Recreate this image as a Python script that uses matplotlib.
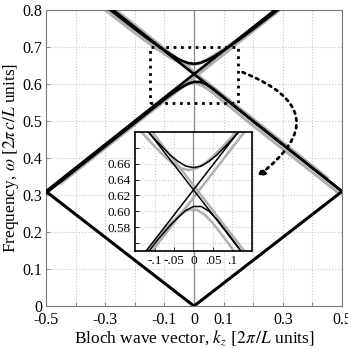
import matplotlib
matplotlib.use("Agg")
import matplotlib.pyplot as plt

plt.rcParams['font.family'] = ['Liberation Serif', 'DejaVu Serif']
plt.rcParams['mathtext.fontset'] = 'stix'

# folded light line (lower V), k in 2pi/L units, omega in 2pi c/L units
vee_k = [-0.5, 0.0, 0.5]
vee_w = [0.31, 0.0, 0.31]

# black structure: crossing lines
blk_a_k = [-0.5, 0.5]
blk_a_w = [0.31, 0.944]
blk_b_k = [-0.5, 0.5]
blk_b_w = [0.944, 0.31]

# black structure: gapped bands
band_k = [-0.5, -0.3, -0.2, -0.15, -0.12, -0.09, -0.06, -0.04, -0.02, 0.0,
          0.02, 0.04, 0.06, 0.09, 0.12, 0.15, 0.2, 0.3, 0.5]
blk_up = [0.936, 0.811, 0.749, 0.719, 0.702, 0.686, 0.671, 0.663, 0.657, 0.655,
          0.657, 0.663, 0.671, 0.686, 0.702, 0.719, 0.749, 0.811, 0.936]
blk_lo = [0.305, 0.432, 0.495, 0.527, 0.546, 0.565, 0.582, 0.592, 0.601, 0.606,
          0.606, 0.600, 0.590, 0.571, 0.551, 0.532, 0.499, 0.436, 0.310]

# grey structure
gry_a_k = [-0.45, 0.5]
gry_a_w = [0.332, 0.934]
gry_b_k = [-0.5, 0.45]
gry_b_w = [0.950, 0.347]

gband_k = [-0.512, -0.312, -0.212, -0.162, -0.132, -0.102, -0.072, -0.052, -0.032, -0.012,
           0.008, 0.028, 0.048, 0.078, 0.108, 0.138, 0.188, 0.288, 0.488]
gry_up = [0.933, 0.808, 0.746, 0.716, 0.699, 0.683, 0.668, 0.660, 0.654, 0.652,
          0.654, 0.660, 0.668, 0.683, 0.699, 0.716, 0.746, 0.808, 0.933]
gry_lo = [0.301, 0.428, 0.491, 0.523, 0.542, 0.561, 0.578, 0.588, 0.597, 0.602,
          0.602, 0.596, 0.586, 0.567, 0.547, 0.528, 0.495, 0.432, 0.306]

# zoom window
box_k = [-0.15, 0.15]
box_w = [0.55, 0.70]

main_xticks = [-0.5, -0.4, -0.3, -0.2, -0.1, 0.0, 0.1, 0.2, 0.3, 0.4, 0.5]
main_xlabels = ["-0.5", "", "-0.3", "", "-0.1", "0", "0.1", "", "0.3", "", "0.5"]
main_yticks = [0, 0.1, 0.2, 0.3, 0.4, 0.5, 0.6, 0.7, 0.8]
main_ylabels = ["0", "0.1", "0.2", "0.3", "0.4", "0.5", "0.6", "0.7", "0.8"]
ins_xticks = [-0.1, -0.05, 0.0, 0.05, 0.1]
ins_xlabels = ["-.1", "-.05", "0", ".05", ".1"]
ins_yticks = [0.56, 0.58, 0.60, 0.62, 0.64, 0.66, 0.68]
ins_ylabels = ["", "0.58", "0.60", "0.62", "0.64", "0.66", ""]

GREY = "#b0b0b0"


def draw_bands(ax, lw_g, lw_b):
  ax.axvline(0, color="#8a8a8a", lw=0.9, zorder=1)
  ax.plot(gry_a_k, gry_a_w, color=GREY, lw=lw_g, zorder=2)
  ax.plot(gry_b_k, gry_b_w, color=GREY, lw=lw_g, zorder=2)
  ax.plot(gband_k, gry_up, color=GREY, lw=lw_g, zorder=2)
  ax.plot(gband_k, gry_lo, color=GREY, lw=lw_g, zorder=2)
  ax.plot(blk_a_k, blk_a_w, color="black", lw=lw_b, zorder=3)
  ax.plot(blk_b_k, blk_b_w, color="black", lw=lw_b, zorder=3)
  ax.plot(band_k, blk_up, color="black", lw=lw_b, zorder=3)
  ax.plot(band_k, blk_lo, color="black", lw=lw_b, zorder=3)


def style_axes(ax, spine_col, fs, pad):
  ax.grid(True, linestyle=":", color="#c8c8c8", lw=0.8)
  ax.set_axisbelow(True)
  ax.tick_params(direction="in", length=3, width=0.6, labelsize=fs, color=spine_col, pad=pad)
  for s in ax.spines.values():
    s.set_color(spine_col)


fig = plt.figure(figsize=(3.48, 3.49), dpi=100)
ax = fig.add_axes([0.132, 0.123, 0.851, 0.848])

draw_bands(ax, 2.2, 1.9)
ax.plot(vee_k, vee_w, color="black", lw=2.2, zorder=3)

# dotted zoom rectangle
ax.plot([box_k[0], box_k[1], box_k[1], box_k[0], box_k[0]],
        [box_w[0], box_w[0], box_w[1], box_w[1], box_w[0]],
        color="black", ls=":", lw=2.0, zorder=4)

ax.annotate("", xy=(0.205, 0.345), xytext=(0.155, 0.635),
            arrowprops=dict(arrowstyle="-|>", linestyle=":", lw=2.0, color="black",
                            connectionstyle="arc3,rad=-0.9", mutation_scale=10),
            zorder=5)

ax.set_xlim(-0.5, 0.5)
ax.set_ylim(0, 0.8)
ax.set_xticks(main_xticks)
ax.set_xticklabels(main_xlabels)
ax.set_yticks(main_yticks)
ax.set_yticklabels(main_ylabels)
style_axes(ax, "#7a7a7a", 11.5, 2.5)
ax.tick_params(axis="x", pad=4.5)
ax.set_xlabel(r"Bloch wave vector, $k_z$ $[2\pi\,/L$ units$]$", fontsize=12.5, labelpad=0)
ax.set_ylabel(r"Frequency, $\omega$ $[2\pi\, c/L$ units$]$", fontsize=12.5, labelpad=1)

# inset
ins = fig.add_axes([0.388, 0.281, 0.336, 0.341])
ins.set_facecolor("white")
draw_bands(ins, 1.8, 1.1)
ins.set_xlim(box_k[0], box_k[1])
ins.set_ylim(box_w[0], box_w[1])
ins.set_xticks(ins_xticks)
ins.set_xticklabels(ins_xlabels)
ins.set_yticks(ins_yticks)
ins.set_yticklabels(ins_ylabels)
style_axes(ins, "black", 9.5, 3)
for s in ins.spines.values():
  s.set_linewidth(1.2)

fig.savefig("out.png", dpi=100)
